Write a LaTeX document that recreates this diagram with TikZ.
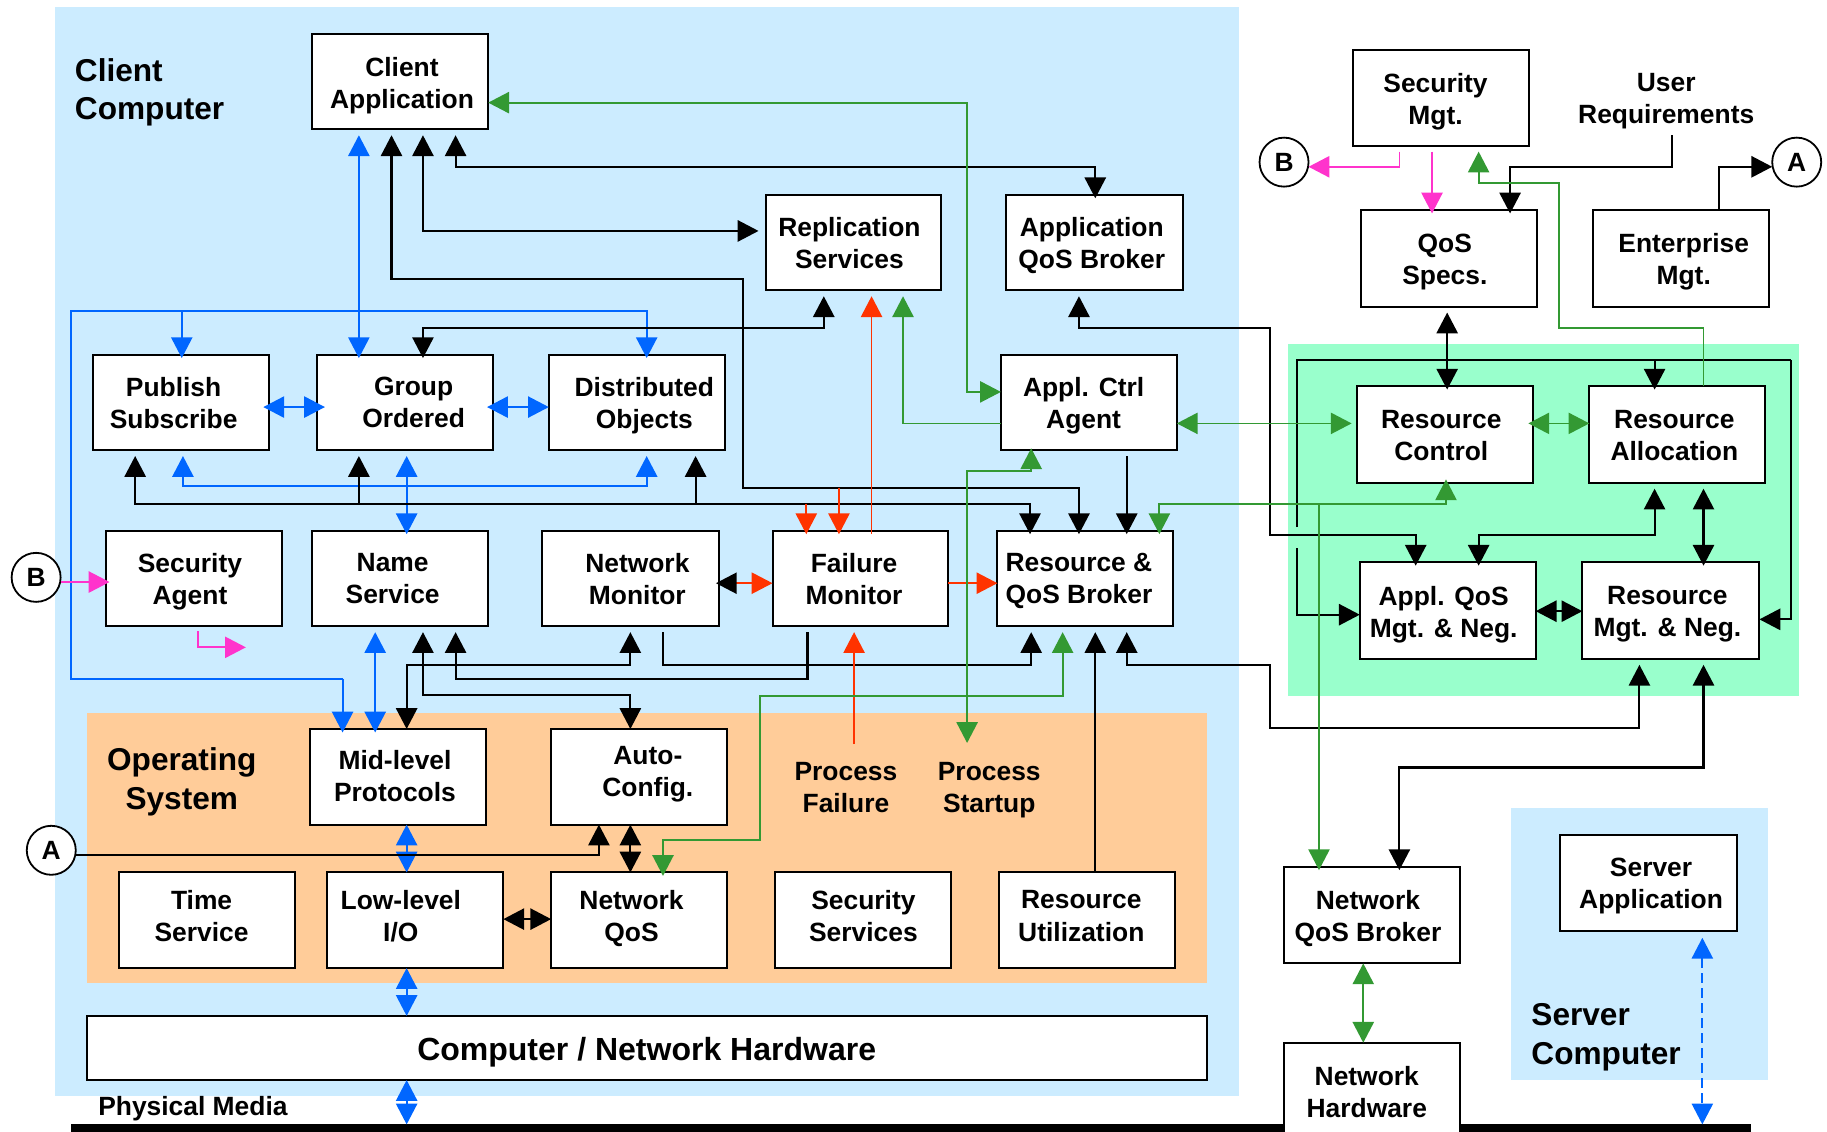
\documentclass[tikz,border=0pt]{standalone}
\usepackage{fontspec}
\setmainfont{Liberation Sans}
\usetikzlibrary{arrows.meta}
\definecolor{clientbg}{RGB}{204,236,255}
\definecolor{osbg}{RGB}{255,204,153}
\definecolor{mgtbg}{RGB}{153,255,204}
\definecolor{cblue}{RGB}{0,102,255}
\definecolor{cgreen}{RGB}{51,153,51}
\definecolor{cred}{RGB}{255,51,0}
\definecolor{cmag}{RGB}{255,51,204}
\newcommand{\smallstrut}{\rule[-3.5pt]{0pt}{14.5pt}}
\newcommand{\bigstrut}{\rule[-4.2pt]{0pt}{17.2pt}}
\tikzset{
  boxstyle/.style={draw=black,fill=white,line width=1pt,rectangle,inner sep=0pt,outer sep=0pt},
  lab/.style={font=\fontsize{13.2}{16}\selectfont\bfseries,align=center,inner sep=0pt,yshift=-1.9pt,execute at begin node=\smallstrut,execute at end node=\smallstrut},
  biglab/.style={font=\fontsize{15.8}{19.3}\selectfont\bfseries,align=left,inner sep=0pt,anchor=west,yshift=-2.3pt,execute at begin node=\bigstrut,execute at end node=\bigstrut},
  circstyle/.style={draw=black,fill=white,circle,line width=0.9pt,minimum size=24.5pt,inner sep=0pt,outer sep=0pt,font=\fontsize{13.2}{16}\selectfont\bfseries},
  sgapstart/.style={shorten <=2.9pt},
  sgapend/.style={shorten >=2.9pt},
  noverstart/.style={shorten <=-1.75pt},
  noverend/.style={shorten >=-1.75pt},
}
\newcommand{\qbox}[8]{%
  \node[boxstyle,minimum width={(#4-#2)*0.5825pt},minimum height={(#5-#3)*0.5831pt}] (#1) at ({(#2+#4)/2},{(#3+#5)/2}) {};
  \node[lab] (#1-t) at (#6,#7) {#8};}
\begin{document}
\begin{tikzpicture}[x=0.5825pt,y=-0.5831pt,
  bb/.style={line width=1pt,draw=cblue,-{Triangle[length=10.4pt,width=10.6pt,fill=cblue]}},
  bbb/.style={line width=1pt,draw=cblue,{Triangle[length=10.4pt,width=10.6pt,fill=cblue]}-{Triangle[length=10.4pt,width=10.6pt,fill=cblue]}},
  kline/.style={line width=1.05pt,draw=black},
  k/.style={line width=1.05pt,draw=black,-{Triangle[length=10.4pt,width=10.6pt,fill=black]}},
  kb/.style={line width=1.05pt,draw=black,{Triangle[length=10.4pt,width=10.6pt,fill=black]}-{Triangle[length=10.4pt,width=10.6pt,fill=black]}},
  g/.style={line width=0.9pt,draw=cgreen,-{Triangle[length=10.4pt,width=10.6pt,fill=cgreen]}},
  gb/.style={line width=0.9pt,draw=cgreen,{Triangle[length=10.4pt,width=10.6pt,fill=cgreen]}-{Triangle[length=10.4pt,width=10.6pt,fill=cgreen]}},
  r/.style={line width=0.9pt,draw=cred,-{Triangle[length=10.4pt,width=10.6pt,fill=cred]}},
  m/.style={line width=0.9pt,draw=cmag,-{Triangle[length=10.4pt,width=10.6pt,fill=cmag]}},
]
\useasboundingbox (0,0) rectangle (1568,969.7);
% backgrounds
\fill[clientbg] (47,6) rectangle (1063,940);
\fill[osbg] (75,611) rectangle (1036,843);
\fill[mgtbg] (1105,295) rectangle (1544,597);
\fill[clientbg] (1297,693) rectangle (1517,926);
\fill[black] (61,964) rectangle (1503,972);
% boxes
\qbox{ca}{268}{29}{419}{111}{345}{70.5}{Client\\Application}
\qbox{rep}{657}{167}{808}{249}{729}{208}{Replication\\Services}
\qbox{aqb}{863}{167}{1015}{249}{937}{208}{Application\\QoS Broker}
\qbox{pub}{80}{304}{231}{386}{149}{345}{Publish\\Subscribe}
\qbox{grp}{272}{304}{423}{386}{355}{345}{Group\\Ordered}
\qbox{dis}{471}{304}{622}{386}{553}{345}{Distributed\\Objects}
\qbox{act}{859}{304}{1010}{386}{930}{345}{Appl. Ctrl\\Agent}
\qbox{sag}{91}{455}{242}{537}{163}{496}{Security\\Agent}
\qbox{nam}{268}{455}{419}{537}{337}{496}{Name\\Service}
\qbox{nmo}{465}{455}{617}{537}{547}{496}{Network\\Monitor}
\qbox{fmo}{663}{455}{814}{537}{733}{496}{Failure\\Monitor}
\qbox{rqb}{856}{455}{1007}{537}{926}{496}{Resource \&\\QoS Broker}
\qbox{mid}{266}{625}{417}{707}{339}{665}{Mid-level\\Protocols}
\qbox{aut}{473}{625}{624}{707}{556}{661}{Auto-\\Config.}
\qbox{tim}{102}{748}{253}{830}{173}{785}{Time\\Service}
\qbox{low}{281}{748}{432}{830}{344}{785}{Low-level\\I/O}
\qbox{nqs}{473}{748}{624}{830}{542}{785}{Network\\QoS}
\qbox{sse}{665}{748}{816}{830}{741}{785}{Security\\Services}
\qbox{rut}{857}{748}{1008}{830}{928}{785}{Resource\\Utilization}
\node[boxstyle,minimum width={(1036-75)*0.5825pt},minimum height={(926-871)*0.5831pt}] (chw) at (555.5,898.5) {};
\node[inner sep=0pt,font=\fontsize{16}{19}\selectfont\bfseries,yshift=-1.2pt] (chw-t) at (555,900) {Computer / Network Hardware};
\qbox{sme}{1161}{43}{1312}{125}{1232}{84.5}{Security\\Mgt.}
\qbox{qsp}{1168}{180}{1319}{263}{1240}{222}{QoS\\Specs.}
\qbox{ent}{1367}{180}{1518}{263}{1445}{222}{Enterprise\\Mgt.}
\qbox{rco}{1165}{331}{1316}{414}{1237}{373}{Resource\\Control}
\qbox{ral}{1364}{331}{1515}{414}{1437}{373}{Resource\\Allocation}
\qbox{aqm}{1167}{482}{1318}{565}{1239}{524}{Appl. QoS\\Mgt. \& Neg.}
\qbox{rmn}{1358}{482}{1510}{565}{1431}{524}{Resource\\Mgt. \& Neg.}
\qbox{nqb}{1102}{743}{1253}{826}{1174}{785}{Network\\QoS Broker}
\qbox{nhw}{1102}{894}{1253}{985}{1173}{936}{Network\\Hardware}
\qbox{sap}{1339}{716}{1491}{798}{1417}{757}{Server\\Application}
% free labels
\node[biglab] (lclient) at (64,76) {Client\\Computer};
\node[biglab,align=center,anchor=center] (los) at (156,667) {Operating\\System};
\node[biglab] (lserver) at (1314,886) {Server\\Computer};
\node[lab] (lpf) at (726,675) {Process\\Failure};
\node[lab] (lps) at (849,675) {Process\\Startup};
\node[lab] (lur) at (1430,84.5) {User\\Requirements};
\node[lab,anchor=west] (lpm) at (84,947) {Physical Media};
\coordinate (barl) at (349,964);
\coordinate (barr) at (1461,964);
% off-page connectors
\node[circstyle] (bl) at (31,495) {B};
\node[circstyle] (al) at (44,729) {A};
\node[circstyle] (br) at (1102,139) {B};
\node[circstyle] (ar) at (1542,139) {A};
% blue
\draw[bbb,sgapstart,noverend] (308,0 |- ca.south) -- (308,0 |- grp.north);
\draw[bb,noverend] (294,582) -- (294,0 |- mid.north);
\draw[bb,noverend] (294,582) -- (61,582) -- (61,267) -- (555,267) -- (555,0 |- dis.north);
\draw[bb,noverend] (156,267) -- (156,0 |- pub.north);
\draw[bbb,shorten <=-2.9pt,shorten >=-4pt] (pub.east |- 0,349) -- (grp.west |- 0,349);
\draw[bbb,shorten <=-2.9pt,shorten >=0pt] (grp.east |- 0,349) -- (dis.west |- 0,349);
\draw[bbb,sgapstart,sgapend] (157,0 |- pub.south) -- (157,417) -- (555,417) -- (555,0 |- dis.south);
\draw[bbb,sgapstart,noverend] (349,0 |- grp.south) -- (349,0 |- nam.north);
\draw[bbb,sgapstart,noverend] (322,0 |- nam.south) -- (322,0 |- mid.north);
\draw[bbb] (349,0 |- mid.south) -- (349,0 |- low.north);
\draw[bbb] (349,0 |- low.south) -- (349,0 |- chw.north);
\draw[bbb] (349,0 |- chw.south) -- (barl);
\draw[line width=0.9pt,draw=cblue,dash pattern=on 5pt off 2.5pt,{Triangle[length=10.4pt,width=10.6pt,fill=cblue]}-{Triangle[length=10.4pt,width=10.6pt,fill=cblue]},shorten <=3.5pt] (1461,0 |- sap.south) -- (barr);
% black
\draw[kb,sgapstart,noverend] (336,0 |- ca.south) -- (336,239) -- (638,239) -- (638,418) -- (926,418) -- (926,0 |- rqb.north);
\draw[kb,sgapstart] (363,0 |- ca.south) -- (363,198) -- (651,198);
\draw[kb,sgapstart,noverend] (391,0 |- ca.south) -- (391,143) -- (940,143) -- (940,0 |- aqb.north);
\draw[kb,sgapstart,noverend] (707,0 |- rep.south) -- (707,281) -- (363,281) -- (363,0 |- grp.north);
\draw[kb,sgapstart,noverend] (116,0 |- pub.south) -- (116,432) -- (884,432) -- (884,0 |- rqb.north);
\draw[k,sgapend] (308,432) -- (308,0 |- grp.south);
\draw[k,sgapend] (597,432) -- (597,0 |- dis.south);
\draw[k,sgapstart,noverend] (967,0 |- act.south) -- (967,0 |- rqb.north);
\draw[kb,sgapstart,noverend] (926,0 |- aqb.south) -- (926,281) -- (1090,281) -- (1090,459) -- (1215,459) -- (1215,0 |- aqm.north);
\draw[k,noverend] (1435,116) -- (1435,143) -- (1296,143) -- (1296,0 |- qsp.north);
\draw[k] (1475,0 |- ent.north) -- (1475,143) -- (ar.west |- 0,143);
\draw[kb,sgapstart,noverend] (1242,0 |- qsp.south) -- (1242,0 |- rco.north);
\draw[kline] (1113,452) -- (1113,309) -- (1537,309);
\draw[k] (1537,309) -- (1537,531) -- (rmn.east |- 0,531);
\draw[k,noverend] (1420,309) -- (1420,0 |- ral.north);
\draw[k] (1113,470) -- (1113,527) -- (aqm.west |- 0,527);
\draw[kb,sgapstart,noverend] (1420,0 |- ral.south) -- (1420,459) -- (1269,459) -- (1269,0 |- aqm.north);
\draw[kb,sgapstart,noverend] (1462,0 |- ral.south) -- (1462,0 |- rmn.north);
\draw[kb] (aqm.east |- 0,524) -- (rmn.west |- 0,524);
\draw[kb,sgapstart,sgapend] (967,0 |- rqb.south) -- (967,570) -- (1090,570) -- (1090,624) -- (1407,624) -- (1407,0 |- rmn.south);
\draw[kb,sgapstart,noverend] (1462,0 |- rmn.south) -- (1462,658) -- (1201,658) -- (1201,0 |- nqb.north);
\draw[k,sgapend] (940,0 |- rut.north) -- (940,0 |- rqb.south);
\draw[k,sgapstart,sgapend] (569,0 |- nmo.south) -- (569,570) -- (885,570) -- (885,0 |- rqb.south);
\draw[k,sgapstart,sgapend] (693,0 |- fmo.south) -- (693,582) -- (391,582) -- (391,0 |- nam.south);
\draw[kb,sgapstart] (541,0 |- nmo.south) -- (541,570) -- (349,570) -- (349,0 |- mid.north);
\draw[kb,sgapstart] (363,0 |- nam.south) -- (363,596) -- (541,596) -- (541,0 |- aut.north);
\draw[k] (al.east |- 0,733) -- (514,733) -- (514,0 |- aut.south);
\draw[kb] (541,0 |- aut.south) -- (541,0 |- nqs.north);
\draw[kb] (low.east |- 0,788) -- (nqs.west |- 0,788);
% red
\draw[line width=0.9pt,draw=cred,{Triangle[length=10.4pt,width=10.6pt,fill=black,color=black]}-{Triangle[length=10.4pt,width=10.6pt,fill=cred]},shorten <=-1.5pt] (nmo.east |- 0,500) -- (fmo.west |- 0,500);
\draw[r] (fmo.east |- 0,500) -- (rqb.west |- 0,500);
\draw[r,sgapend] (733,638) -- (733,0 |- fmo.south);
\draw[r,sgapend] (748,458) -- (748,0 |- rep.south);
\draw[r,noverend] (692,432) -- (692,0 |- fmo.north);
\draw[r,noverend] (720,418) -- (720,0 |- fmo.north);
% magenta
\draw[m,shorten >=-1.75pt] (bl.east |- 0,499) -- (sag.west |- 0,499);
\draw[m] (170,541) -- (170,555) -- (211,555);
\draw[m,sgapstart] (1201,0 |- sme.south) -- (1201,143) -- (br.east |- 0,143);
\draw[m,sgapstart,noverend] (1229,0 |- sme.south) -- (1229,0 |- qsp.north);
% green
\draw[gb] (ca.east |- 0,88) -- (830,88) -- (830,336) -- (act.west |- 0,336);
\draw[g,sgapend] (act.west |- 0,363) -- (775,363) -- (775,0 |- rep.south);
\draw[gb,shorten >=2.9pt] (act.east |- 0,363) -- (rco.west |- 0,363);
\draw[gb,shorten <=-2.5pt] (rco.east |- 0,363) -- (ral.west |- 0,363);
\draw[g,sgapend] (1462,0 |- ral.north) -- (1462,281) -- (1338,281) -- (1338,157) -- (1269,157) -- (1269,0 |- sme.south);
\draw[gb,shorten <=-1pt] (885,0 |- act.south) -- (885,404) -- (830,404) -- (830,637);
\draw[gb,noverstart,noverend] (1241,0 |- rco.south) -- (1241,432) -- (995,432) -- (995,0 |- rqb.north);
\draw[g,noverend] (1132,432) -- (1132,0 |- nqb.north);
\draw[gb,sgapstart,noverend] (912,0 |- rqb.south) -- (912,597) -- (652,597) -- (652,720) -- (569,720) -- (569,0 |- nqs.north);
\draw[gb] (1170,0 |- nqb.south) -- (1170,0 |- nhw.north);
\end{tikzpicture}
\end{document}
